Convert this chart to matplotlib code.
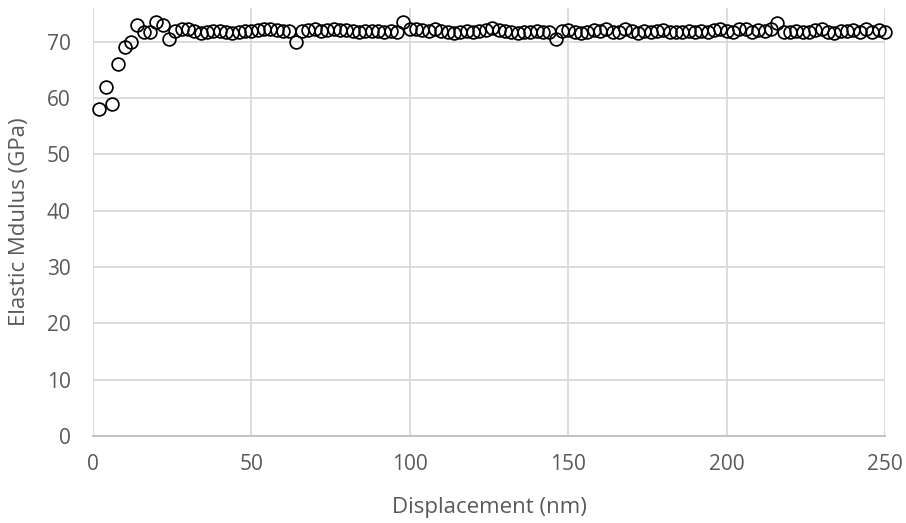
import matplotlib
matplotlib.use("Agg")
import matplotlib.pyplot as plt

# Nanoindentation: elastic modulus versus indentation displacement
displacement_nm = list(range(2, 251, 2))
modulus_gpa = [
    58.0, 62.0, 59.0, 66.0, 69.0, 70.0, 73.0, 71.8, 71.8, 73.5,
    73.0, 70.5, 72.0, 72.2, 72.2, 71.9, 71.6, 71.8, 71.9, 71.9,
    71.7, 71.6, 71.8, 72.0, 72.0, 72.1, 72.2, 72.2, 72.1, 71.9,
    72.0, 70.0, 72.0, 72.1, 72.2, 72.0, 72.1, 72.2, 72.1, 72.1,
    71.9, 71.7, 71.9, 72.0, 71.9, 71.8, 72.0, 71.8, 73.5, 72.2,
    72.2, 72.1, 72.0, 72.3, 72.0, 71.8, 71.6, 71.7, 71.9, 71.8,
    71.9, 72.1, 72.4, 72.1, 72.0, 71.8, 71.6, 71.7, 71.8, 71.9,
    71.7, 71.8, 70.5, 72.0, 72.1, 71.8, 71.6, 71.8, 72.1, 71.9,
    72.2, 71.8, 71.7, 72.2, 71.9, 71.6, 72.0, 71.7, 71.9, 72.1,
    71.8, 71.7, 71.8, 71.9, 71.7, 72.0, 71.8, 72.1, 72.2, 72.0,
    71.8, 72.2, 72.3, 71.8, 72.1, 71.9, 72.2, 73.3, 71.7, 71.8,
    72.0, 71.7, 71.8, 72.1, 72.2, 71.7, 71.6, 72.0, 71.9, 72.1,
    71.8, 72.2, 71.8, 72.1, 71.8,
]
x_ticks = [0, 50, 100, 150, 200, 250]
y_ticks = [0, 10, 20, 30, 40, 50, 60, 70]

plt.rcParams["font.family"] = ["Open Sans", "DejaVu Sans"]
text_color = "#595959"
grid_color = "#d9d9d9"

fig = plt.figure(figsize=(9.06, 5.23), dpi=100)
ax = fig.add_axes([93 / 906, 87 / 523, 792 / 906, 428 / 523])

ax.plot(displacement_nm, modulus_gpa, linestyle="none", marker="o",
        markersize=9.2, markerfacecolor="none", markeredgecolor="black",
        markeredgewidth=1.25, zorder=3, clip_on=False)

ax.set_xlim(0, 250)
ax.set_ylim(0, 76)
ax.set_xticks(x_ticks)
ax.set_yticks(y_ticks)

ax.grid(True, color=grid_color, linewidth=1.3)
ax.set_axisbelow(True)
for side in ("top", "right", "left"):
    ax.spines[side].set_visible(False)
ax.spines["bottom"].set_color("#bfbfbf")
ax.spines["bottom"].set_linewidth(1.3)

ax.tick_params(axis="both", length=0, labelsize=15, labelcolor=text_color)
ax.tick_params(axis="x", pad=13)
ax.tick_params(axis="y", pad=16)

ax.set_xlabel("Displacement (nm)", fontsize=16, color=text_color, va="center")
ax.set_ylabel("Elastic Mdulus (GPa)", fontsize=16, color=text_color, va="center")
ax.xaxis.set_label_coords(0.5, -71 / 428)
ax.yaxis.set_label_coords(-73 / 792, 0.5)

fig.savefig("out.png", dpi=100)
